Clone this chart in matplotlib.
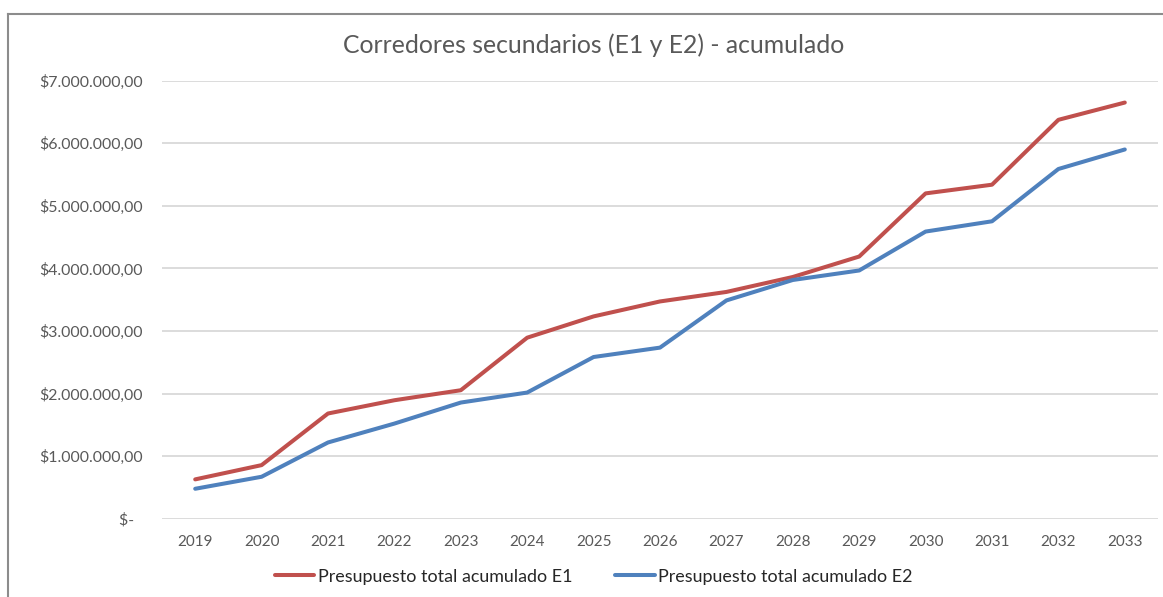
import matplotlib.pyplot as plt
from matplotlib.lines import Line2D
from matplotlib.ticker import FuncFormatter

years = [str(y) for y in range(2019, 2034)]
e1 = [0.628, 0.856, 1.681, 1.893, 2.053, 2.893, 3.233, 3.472, 3.624, 3.863,
      4.190, 5.199, 5.338, 6.375, 6.651]
e2 = [0.478, 0.670, 1.218, 1.520, 1.856, 2.016, 2.584, 2.734, 3.488, 3.815,
      3.967, 4.589, 4.753, 5.589, 5.901]
e1 = [v * 1e6 for v in e1]
e2 = [v * 1e6 for v in e2]
labels = ['Presupuesto total acumulado E1', 'Presupuesto total acumulado E2']

plt.rcParams['font.family'] = ['Lato', 'DejaVu Sans']
txt = '#595959'
grid = '#d9d9d9'

fig = plt.figure(figsize=(11.63, 5.97), dpi=100)
ax = fig.add_axes([0.1393, 0.1312, 0.8564, 0.7336])

x = range(len(years))
ax.plot(x, e1, color='#C0504D', lw=2.9, solid_capstyle='round', solid_joinstyle='round', label=labels[0])
ax.plot(x, e2, color='#4F81BD', lw=2.9, solid_capstyle='round', solid_joinstyle='round', label=labels[1])

ax.set_xlim(-0.5, len(years) - 0.5)
ax.set_ylim(0, 7e6)
ax.set_yticks([i * 1e6 for i in range(8)])
ax.set_xticks(list(x))
ax.set_xticklabels(years)


def money(v, pos):
    if v == 0:
        return '$-  '
    s = f'{v:,.2f}'.replace(',', 'X').replace('.', ',').replace('X', '.')
    return '$' + s


ax.yaxis.set_major_formatter(FuncFormatter(money))
ax.grid(axis='y', color=grid, lw=1.3)
ax.set_axisbelow(True)
for s in ax.spines.values():
    s.set_visible(False)
ax.tick_params(length=0, labelsize=11, labelcolor=txt)
ax.tick_params(axis='y', labelsize=11.4, pad=14)
ax.tick_params(axis='x', pad=12)

fig.text(0.51, 0.924, 'Corredores secundarios (E1 y E2) - acumulado',
         ha='center', va='center', fontsize=17.8, color=txt)

leg = fig.legend(loc='center', bbox_to_anchor=(0.5107, 0.034), ncol=2, frameon=False,
                 fontsize=12.9, labelcolor='#262626', handlelength=2.2,
                 handletextpad=0.2, columnspacing=2.4)

# outer chart frame (top and left visible in the screenshot)
fig.add_artist(Line2D([7.5 / 1163, 1], [1 - 13.5 / 597] * 2, color='#8c8c8c', lw=1.5,
                      transform=fig.transFigure))
fig.add_artist(Line2D([7.5 / 1163] * 2, [0, 1 - 13.5 / 597], color='#8c8c8c', lw=1.5,
                      transform=fig.transFigure))

fig.savefig('out.png', dpi=100)
